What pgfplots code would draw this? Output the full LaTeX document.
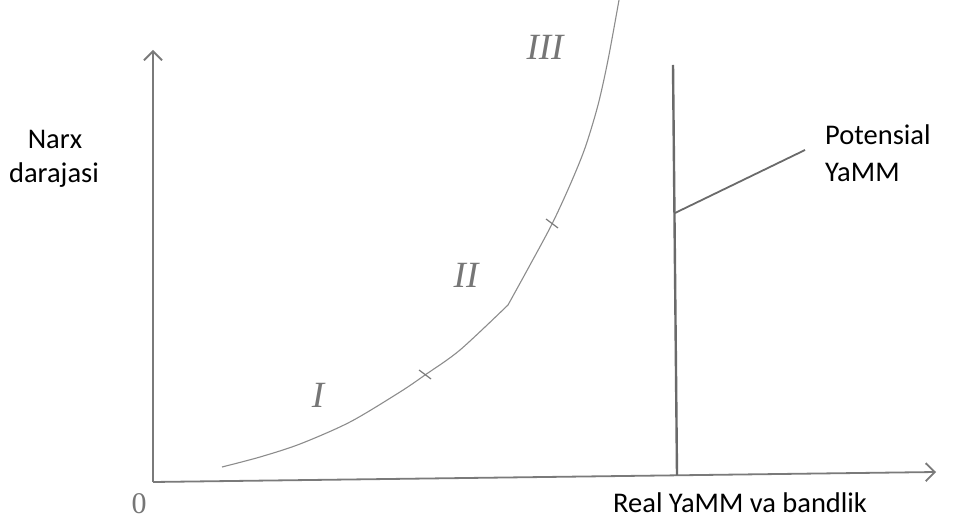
\documentclass[border=0pt]{standalone}
\usepackage{pgfplots}
\pgfplotsset{compat=1.18}
\usetikzlibrary{arrows.meta}
\usepackage{fontspec}
\setmainfont{Carlito}
\newfontfamily\serif{Liberation Serif}
\definecolor{axgray}{HTML}{7A7A7A}
\definecolor{curvegray}{HTML}{8C8C8C}
\definecolor{numgray}{HTML}{767676}
\definecolor{vlgray}{HTML}{6A6A6A}
\begin{document}
\begin{tikzpicture}
\begin{axis}[
  name=ax,
  scale only axis, width=973pt, height=522pt,
  xmin=0, xmax=973, ymin=0, ymax=522,
  hide axis, clip=false,
]
% axes
\addplot[axgray, line width=1.8pt, -{Straight Barb[length=9pt,width=18pt,line width=1.8pt]}] coordinates {(153,40) (153,472)};
\addplot[axgray, line width=1.8pt, -{Straight Barb[length=9pt,width=18pt,line width=1.8pt]}] coordinates {(153,40) (936,50)};
% potential output vertical line
\addplot[vlgray, line width=2.4pt] coordinates {(677,47) (673,457)};
% label pointer
\addplot[vlgray, line width=1.8pt] coordinates {(675,309) (805,372)};
% aggregate supply curve, segment I-II
\addplot[curvegray, line width=1.1pt, smooth] coordinates {(222,55) (260,65) (300,78) (350,100) (400,130) (425,147) (460,172) (508,217)};
% segment II-III
\addplot[curvegray, line width=1.1pt, smooth] coordinates {(508,217) (530,257) (552,298) (570,337) (585,374) (598,417) (608,462) (619,522)};
% tick marks
\addplot[axgray, line width=1.2pt] coordinates {(419,152) (431,143)};
\addplot[axgray, line width=1.2pt] coordinates {(546,303) (558,294)};
% labels
\node[font=\fontsize{28.5}{34}\selectfont, anchor=base, inner sep=0pt] at (axis cs:55,373) {Narx};
\node[font=\fontsize{28.5}{34}\selectfont, anchor=base, inner sep=0pt] at (axis cs:54,339) {darajasi};
\node[font=\fontsize{28.5}{34}\selectfont, anchor=base west, inner sep=0pt] at (axis cs:825,377) {Potensial};
\node[font=\fontsize{28.5}{34}\selectfont, anchor=base west, inner sep=0pt] at (axis cs:825,340) {YaMM};
\node[font=\fontsize{28.5}{34}\selectfont, anchor=base west, inner sep=0pt] at (axis cs:613,10) {Real YaMM va bandlik};
\node[font=\serif\fontsize{30}{34}\selectfont, text=numgray] at (axis cs:139,18) {0};
\node[font=\serif\itshape\fontsize{37}{40}\selectfont, text=numgray] at (axis cs:318,127) {I};
\node[font=\serif\itshape\fontsize{37}{40}\selectfont, text=numgray] at (axis cs:466,247) {II};
\node[font=\serif\itshape\fontsize{37}{40}\selectfont, text=numgray] at (axis cs:545,475) {III};
\end{axis}
\pgfresetboundingbox
\path[use as bounding box] (ax.south west) rectangle (ax.north east);
\end{tikzpicture}
\end{document}
